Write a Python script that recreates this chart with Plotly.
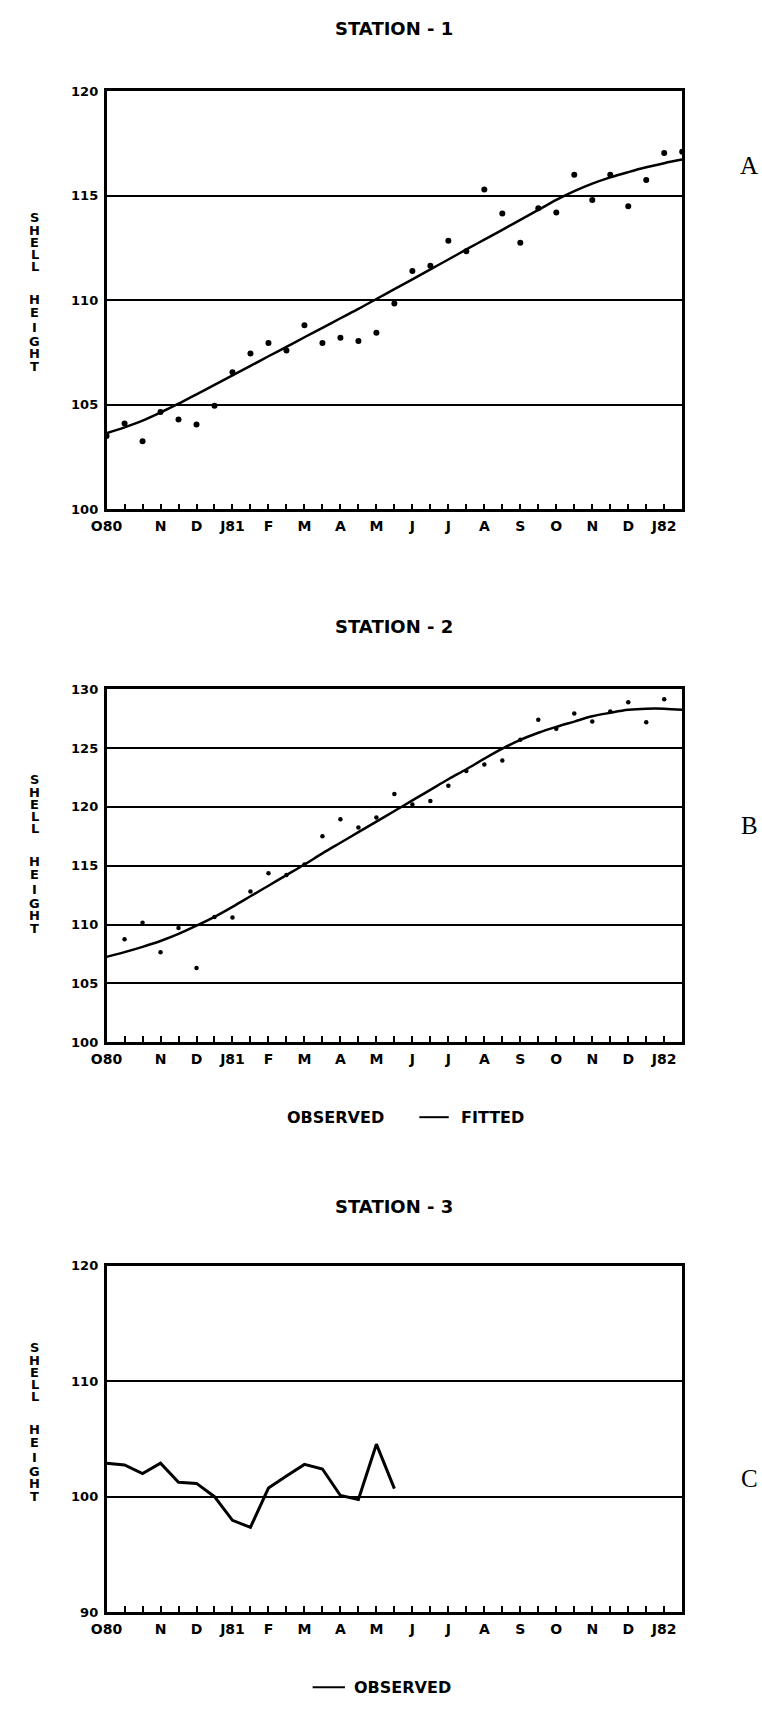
import plotly.graph_objects as go

# ---------------- data ----------------
MONTH_TICK_POS = [0, 3, 5, 7, 9, 11, 13, 15, 17, 19, 21, 23, 25, 27, 29, 31]
MONTH_TICK_TEXT = ["O80", "N", "D", "J81", "F", "M", "A", "M", "J", "J",
                   "A", "S", "O", "N", "D", "J82"]
HALF_MONTH_TICKS = list(range(1, 32))

# Station 1
S1_OBS_X = list(range(0, 33))
S1_OBS_Y = [103.5, 104.1, 103.25, 104.65, 104.3, 104.05, 104.95, 106.55, 107.45,
            107.95, 107.6, 108.8, 107.95, 108.2, 108.05, 108.45, 109.85, 111.4,
            111.65, 112.85, 112.35, 115.3, 114.15, 112.75, 114.4, 114.2, 116.0,
            114.8, 116.0, 114.5, 115.75, 117.05, 117.1]
S1_FIT_X = list(range(0, 33))
S1_FIT_Y = [103.64, 103.92, 104.24, 104.63, 105.05, 105.5, 105.95, 106.41, 106.86,
            107.32, 107.77, 108.23, 108.68, 109.14, 109.59, 110.06, 110.53, 111.0,
            111.48, 111.95, 112.43, 112.9, 113.37, 113.85, 114.32, 114.8, 115.22,
            115.58, 115.88, 116.13, 116.36, 116.56, 116.73]

# Station 2
S2_OBS_X = list(range(1, 32))
S2_OBS_Y = [108.75, 110.15, 107.65, 109.7, 106.3, 110.65, 110.6, 112.8, 114.35,
            114.2, 115.1, 117.5, 118.95, 118.25, 119.1, 121.1, 120.2, 120.5, 121.8,
            123.05, 123.6, 123.95, 125.7, 127.4, 126.65, 127.95, 127.25, 128.1,
            128.9, 127.2, 129.15]
S2_FIT_X = list(range(0, 33))
S2_FIT_Y = [107.25, 107.65, 108.1, 108.6, 109.2, 109.9, 110.65, 111.5, 112.4, 113.3,
            114.2, 115.1, 116.05, 116.95, 117.85, 118.75, 119.65, 120.55, 121.45,
            122.35, 123.2, 124.1, 124.95, 125.7, 126.3, 126.8, 127.25, 127.7, 128.0,
            128.25, 128.35, 128.35, 128.25]

# Station 3
S3_OBS_X = list(range(0, 17))
S3_OBS_Y = [102.9, 102.75, 102.0, 102.9, 101.25, 101.15, 100.0, 97.95, 97.35,
            100.75, 101.8, 102.8, 102.4, 100.1, 99.75, 104.55, 100.7]

Y1_TICKS = [100, 105, 110, 115, 120]
Y2_TICKS = [100, 105, 110, 115, 120, 125, 130]
Y3_TICKS = [90, 100, 110, 120]

# ---------------- layout helpers ----------------
W, H = 762, 1711
BOLD = dict(family="DejaVu Sans", color="black", weight="bold")


def px_x(p):
    return p / W


def px_y(p):
    return 1 - p / H


PLOT_L, PLOT_R = 92.5, 680.5
PANELS = [  # (top px, bottom px)
    (85, 506.7),
    (688.3, 1044.3),
    (1270, 1619.3),
]

fig = go.Figure()

# Station 1
fig.add_trace(go.Scatter(x=S1_OBS_X, y=S1_OBS_Y, mode="markers",
                         marker=dict(color="black", size=6), xaxis="x", yaxis="y",
                         name="OBSERVED"))
fig.add_trace(go.Scatter(x=S1_FIT_X, y=S1_FIT_Y, mode="lines", line_shape="spline",
                         line=dict(color="black", width=2.5), xaxis="x", yaxis="y",
                         name="FITTED"))
# Station 2
fig.add_trace(go.Scatter(x=S2_OBS_X, y=S2_OBS_Y, mode="markers",
                         marker=dict(color="black", size=4.5), xaxis="x2", yaxis="y2",
                         name="OBSERVED"))
fig.add_trace(go.Scatter(x=S2_FIT_X, y=S2_FIT_Y, mode="lines", line_shape="spline",
                         line=dict(color="black", width=2.5), xaxis="x2", yaxis="y2",
                         name="FITTED"))
# Station 3
fig.add_trace(go.Scatter(x=S3_OBS_X, y=S3_OBS_Y, mode="lines",
                         line=dict(color="black", width=3), xaxis="x3", yaxis="y3",
                         name="OBSERVED"))


def xaxis_cfg(anchor, top, bottom):
    return dict(
        domain=[px_x(PLOT_L), px_x(PLOT_R)], anchor=anchor, range=[0, 32],
        showgrid=False, zeroline=False, showline=True, mirror=True,
        linecolor="black", linewidth=2.5,
        tickmode="array", tickvals=MONTH_TICK_POS, ticktext=MONTH_TICK_TEXT,
        ticks="", tickfont=dict(BOLD, size=14), ticklabelstandoff=2,
        minor=dict(tickmode="array", tickvals=HALF_MONTH_TICKS, ticks="inside",
                   ticklen=6, tickwidth=2, tickcolor="black", showgrid=False),
        fixedrange=True,
    )


def yaxis_cfg(anchor, top, bottom, rng, ticks):
    return dict(
        domain=[px_y(bottom), px_y(top)], anchor=anchor, range=rng,
        tickmode="array", tickvals=ticks, ticktext=[str(t) for t in ticks],
        showgrid=True, gridcolor="black", gridwidth=2, zeroline=False,
        showline=True, mirror=True, linecolor="black", linewidth=2.5,
        ticks="", tickfont=dict(BOLD, size=13), ticklabelstandoff=3,
        fixedrange=True,
    )


layout = dict(
    width=W, height=H, margin=dict(l=0, r=0, t=0, b=0),
    paper_bgcolor="white", plot_bgcolor="white", showlegend=False,
    xaxis=xaxis_cfg("y", *PANELS[0]),
    yaxis=yaxis_cfg("x", *PANELS[0], [100, 120], Y1_TICKS),
    xaxis2=xaxis_cfg("y2", *PANELS[1]),
    yaxis2=yaxis_cfg("x2", *PANELS[1], [100, 130], Y2_TICKS),
    xaxis3=xaxis_cfg("y3", *PANELS[2]),
    yaxis3=yaxis_cfg("x3", *PANELS[2], [90, 120], Y3_TICKS),
)
fig.update_layout(**layout)

ann = []
# Titles
for txt, y in [("STATION - 1", 22), ("STATION - 2", 625), ("STATION - 3", 1210)]:
    ann.append(dict(text=txt, x=px_x(386), y=px_y(y), xref="paper", yref="paper",
                    showarrow=False, font=dict(BOLD, size=18),
                    xanchor="center", yanchor="middle"))
# Side letters
for txt, y in [("A", 160), ("B", 826), ("C", 1485)]:
    ann.append(dict(text=txt, x=px_x(749), y=px_y(y), xref="paper", yref="paper",
                    showarrow=False, font=dict(family="Liberation Serif", size=25,
                                               color="black"),
                    xanchor="center", yanchor="middle"))
# Vertical "SHELL HEIGHT"
LETTERS = ["S", "H", "E", "L", "L", "H", "E", "I", "G", "H", "T"]
OFFSETS = [0, 13, 26, 38, 50, 83, 96, 111, 125, 138, 151]
for s_top in [212, 779, 1352]:
    for ch, off in zip(LETTERS, OFFSETS):
        ann.append(dict(text=ch, x=px_x(19), y=px_y(s_top + off), xref="paper",
                        yref="paper", showarrow=False, font=dict(BOLD, size=13),
                        xanchor="center", yanchor="middle"))
# Legends
ann.append(dict(text="OBSERVED", x=px_x(326), y=px_y(1120), xref="paper", yref="paper",
                showarrow=False, font=dict(BOLD, size=16), xanchor="center",
                yanchor="middle"))
ann.append(dict(text="FITTED", x=px_x(452), y=px_y(1120), xref="paper", yref="paper",
                showarrow=False, font=dict(BOLD, size=16), xanchor="left",
                yanchor="middle"))
ann.append(dict(text="OBSERVED", x=px_x(343), y=px_y(1695), xref="paper", yref="paper",
                showarrow=False, font=dict(BOLD, size=16), xanchor="left",
                yanchor="middle"))
fig.update_layout(annotations=ann)

shapes = [
    dict(type="line", xref="paper", yref="paper", x0=px_x(412), x1=px_x(442),
         y0=px_y(1120), y1=px_y(1120), line=dict(color="black", width=2)),
    dict(type="line", xref="paper", yref="paper", x0=px_x(303), x1=px_x(336),
         y0=px_y(1695), y1=px_y(1695), line=dict(color="black", width=2)),
]
fig.update_layout(shapes=shapes)

fig.write_html("out.html")
